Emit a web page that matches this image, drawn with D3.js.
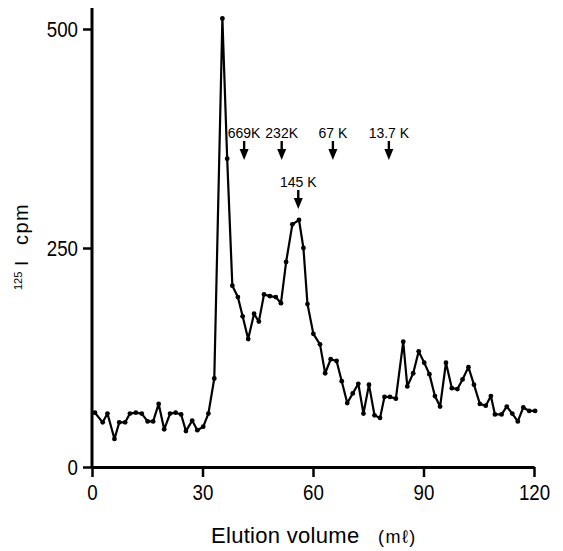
<!DOCTYPE html>
<html>
<head>
<meta charset="utf-8">
<script src="https://cdn.jsdelivr.net/npm/d3@7/dist/d3.min.js"></script>
<style>
  html, body { margin: 0; padding: 0; background: #fff; }
  svg { display: block; }
</style>
</head>
<body>
<svg id="chart" width="563" height="551"></svg>
<script>
// ---- data ----
const volume = [0.8, 2.9, 4.2, 6.1, 7.4, 9.0, 10.3, 11.9, 13.5, 15.1, 16.6, 18.1, 19.6, 21.2, 22.7, 24.2, 25.5, 27.2, 28.6, 30.2,
  31.6, 33.2, 35.4, 36.7, 38.1, 39.6, 40.9, 42.4, 44.0, 45.3, 46.7, 48.3, 49.9, 51.3, 52.7, 54.4, 56.2, 57.4, 58.5, 60.1,
  61.9, 63.3, 64.8, 66.4, 67.8, 69.3, 70.8, 72.3, 73.7, 75.2, 76.7, 78.2, 79.4, 80.9, 82.5, 84.5, 85.6, 87.2, 88.7, 90.2,
  91.6, 93.1, 94.5, 96.1, 97.7, 99.2, 100.6, 102.2, 103.7, 105.3, 106.9, 108.3, 109.4, 111.2, 112.6, 114.1, 115.6, 117.1, 118.7, 120.3];
const cpm = [62, 51, 61, 32, 51, 51, 61, 62, 61, 52, 52, 72, 43, 61, 62, 60, 41, 53, 42, 46,
  61, 101, 512, 352, 207, 194, 172, 146, 175, 166, 197, 195, 194, 187, 234, 277, 282, 250, 186, 152,
  140, 107, 123, 121, 98, 73, 84, 95, 61, 94, 59, 56, 80, 80, 78, 143, 92, 107, 132, 119,
  106, 81, 69, 119, 90, 89, 100, 114, 94, 72, 70, 81, 60, 60, 69, 61, 52, 68, 64, 64];

const xTicks = [0, 30, 60, 90, 120];
const yTicks = [0, 250, 500];
const xTickLabels = ["0", "30", "60", "90", "120"];
const yTickLabels = ["0", "250", "500"];

const markerLabels = ["669K", "232K", "67 K", "13.7 K", "145 K"];
const markerVolumes = [41.3, 51.5, 65.4, 80.6, 56.0];

// ---- layout ----
const svg = d3.select("#chart");
const x = d3.scaleLinear().domain([0, 120]).range([92, 534]);
const y = d3.scaleLinear().domain([0, 500]).range([467, 29]);
const yAxisTop = 524; // axis line extends a bit above 500
const loweredMarker = "145 K";
const condense = 0.85;
const font = "'Liberation Sans', Arial, sans-serif";

// Y axis
const gy = svg.append("g").attr("transform", `translate(${x(0)},0)`)
  .call(d3.axisLeft(y).tickValues(yTicks).tickFormat((d, i) => yTickLabels[i]).tickSize(9).tickSizeOuter(0));
gy.select(".domain").attr("d", `M0,${y(0)}V${y(yAxisTop)}`).attr("stroke", "#000").attr("stroke-width", 3);
gy.selectAll(".tick line").attr("stroke", "#000").attr("stroke-width", 2.5);
gy.selectAll(".tick text")
  .attr("x", -14 / condense).attr("dy", "0.36em")
  .attr("transform", `scale(${condense},1)`)
  .style("font-family", font)
  .style("font-size", "22px").attr("fill", "#000");

// X axis
const gx = svg.append("g").attr("transform", `translate(0,${y(0)})`)
  .call(d3.axisBottom(x).tickValues(xTicks).tickFormat((d, i) => xTickLabels[i]).tickSize(10).tickSizeOuter(0));
gx.select(".domain").attr("stroke", "#000").attr("stroke-width", 3);
gx.selectAll(".tick line").attr("stroke", "#000").attr("stroke-width", 2.5);
gx.selectAll(".tick text")
  .attr("y", 33).attr("dy", 0)
  .attr("transform", `scale(${condense},1)`)
  .style("font-family", font)
  .style("font-size", "22px").attr("fill", "#000");

// data line
const pts = volume.map((v, i) => [v, cpm[i]]);
svg.append("path")
  .datum(pts)
  .attr("fill", "none").attr("stroke", "#000").attr("stroke-width", 2.2)
  .attr("stroke-linejoin", "round")
  .attr("d", d3.line().x(d => x(d[0])).y(d => y(d[1])));
svg.append("g").selectAll("circle").data(pts).join("circle")
  .attr("cx", d => x(d[0])).attr("cy", d => y(d[1])).attr("r", 2.4).attr("fill", "#000");

// markers
const mk = svg.append("g");
markerLabels.forEach((lab, i) => {
  const low = lab === loweredMarker;
  const base = low ? 187 : 138;
  const mx = x(markerVolumes[i]);
  mk.append("text").attr("x", mx).attr("y", base)
    .attr("text-anchor", "middle")
    .style("font-family", font)
    .style("font-size", "14px").attr("fill", "#000").text(lab);
  const s0 = base + 3, s1 = base + 11, tip = base + 22;
  mk.append("line").attr("x1", mx).attr("x2", mx).attr("y1", s0).attr("y2", s1 + 1)
    .attr("stroke", "#000").attr("stroke-width", 2.4);
  mk.append("path").attr("d", `M${mx - 4.5},${s1}L${mx + 4.5},${s1}L${mx},${tip}Z`).attr("fill", "#000");
});

// axis titles
const xt = svg.append("g");
xt.append("text").attr("x", 211).attr("y", 543)
  .style("font-family", font).style("letter-spacing", "0.3px")
  .style("font-size", "22px").attr("fill", "#000").text("Elution volume");
xt.append("text").attr("x", 378).attr("y", 543)
  .style("font-family", "'Liberation Sans', 'DejaVu Sans', sans-serif")
  .style("font-size", "18px").style("letter-spacing", "1.5px").attr("fill", "#000").text("(mℓ)");

const yt = svg.append("g").attr("transform", "translate(28,290) rotate(-90)");
yt.append("text").attr("x", 0).attr("y", -6)
  .style("font-family", font)
  .style("font-size", "11px").attr("fill", "#000").text("125");
yt.append("text").attr("x", 24).attr("y", 0)
  .style("font-family", font)
  .style("font-size", "19px").attr("fill", "#000").text("I");
yt.append("text").attr("x", 45).attr("y", 0)
  .style("font-family", font)
  .style("font-size", "20px").style("letter-spacing", "1.5px").attr("fill", "#000").text("cpm");
</script>
</body>
</html>
